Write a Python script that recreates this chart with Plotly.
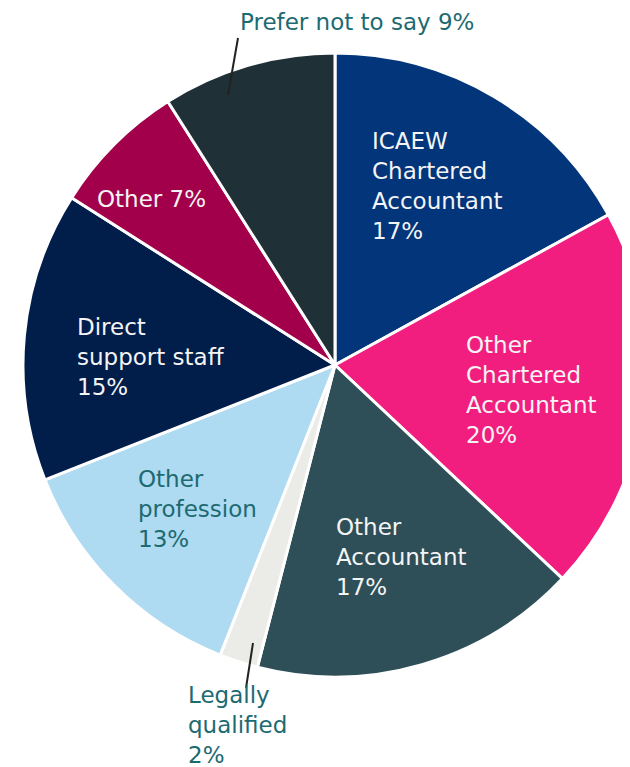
import plotly.graph_objects as go

# Data
categories = ["ICAEW Chartered Accountant", "Other Chartered Accountant", "Other Accountant",
              "Legally qualified", "Other profession", "Direct support staff", "Other",
              "Prefer not to say"]
shares = [17, 20, 17, 2, 13, 15, 7, 9]
label_lines = ["ICAEW<br>Chartered<br>Accountant", "Other<br>Chartered<br>Accountant",
               "Other<br>Accountant", "Legally<br>qualified", "Other<br>profession",
               "Direct<br>support staff", "Other", "Prefer not to say"]
colors = ["#02357A", "#F21E7F", "#2E4F58", "#EBEBE8", "#AEDAF2", "#011D4A", "#A3004B", "#1F3036"]

# Layout (pixels); the page body adds an 8px offset
OFF = 8
W, H = 650, 767
ml, mr, mt, mb = 15, 11, 45, 98
pw, ph = W - ml - mr, H - mt - mb


def paper(x, y):
    return (x - OFF - ml) / pw, 1 - (y - OFF - mt) / ph


WHITE = "#F4F4F4"
TEAL = "#1D6A71"
# label placement: left x, centre y, text colour, separator before percent
label_style = [
    (370, 186, WHITE, "<br>"),
    (464, 390, WHITE, "<br>"),
    (334, 557, WHITE, "<br>"),
    (186, 725, TEAL, "<br>"),
    (136, 509, TEAL, "<br>"),
    (75, 357, WHITE, "<br>"),
    (95, 199, WHITE, " "),
    (238, 22, TEAL, " "),
]

fig = go.Figure(go.Pie(
    labels=categories,
    values=shares,
    sort=False,
    direction="clockwise",
    rotation=0,
    marker=dict(colors=colors, line=dict(color="white", width=3)),
    textinfo="none",
    hoverinfo="label+percent",
    showlegend=False,
    domain=dict(x=[0, 1], y=[0, 1]),
))

annotations = []
for lines, v, (x, y, c, sep) in zip(label_lines, shares, label_style):
    xp, yp = paper(x, y)
    annotations.append(dict(
        x=xp, y=yp, xref="paper", yref="paper", xanchor="left", yanchor="middle",
        align="left", showarrow=False, text=f"{lines}{sep}{v}%",
        font=dict(family="DejaVu Sans", size=23, color=c),
    ))

shapes = []
for (x0, y0), (x1, y1) in [((238, 38), (228, 95)), ((253, 643), (246, 688))]:
    a, b = paper(x0, y0)
    c2, d = paper(x1, y1)
    shapes.append(dict(type="line", xref="paper", yref="paper", x0=a, y0=b, x1=c2, y1=d,
                       line=dict(color="#222222", width=2)))

fig.update_layout(
    width=W, height=H, autosize=False,
    margin=dict(l=ml, r=mr, t=mt, b=mb),
    paper_bgcolor="white", plot_bgcolor="white",
    annotations=annotations, shapes=shapes,
)

fig.write_html("out.html")
